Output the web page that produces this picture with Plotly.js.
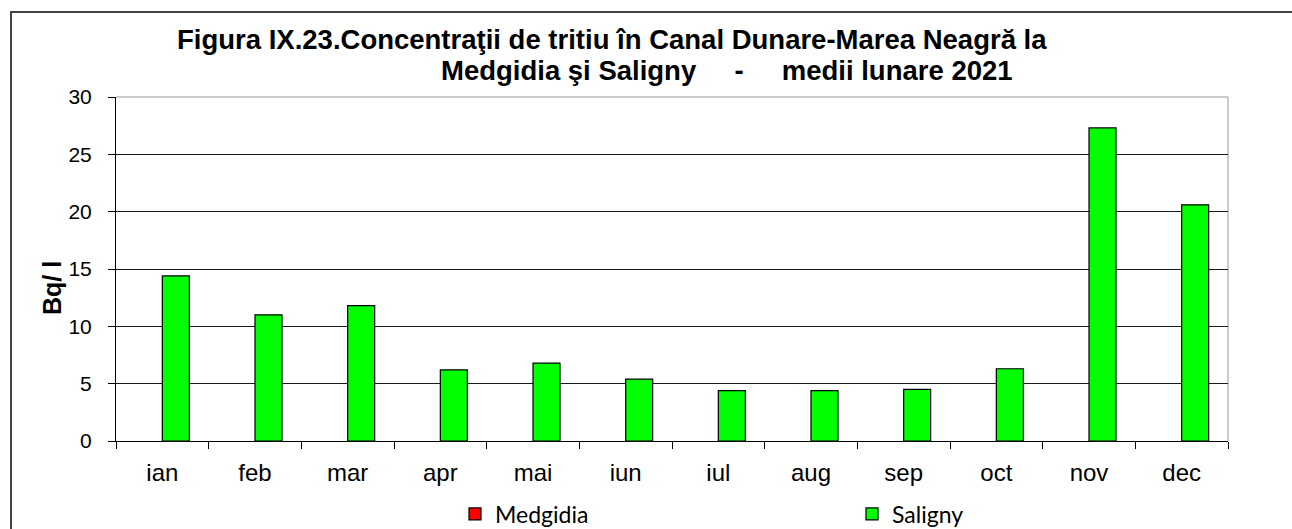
<!DOCTYPE html>
<html>
<head>
<meta charset="utf-8">
<script src="https://cdn.plot.ly/plotly-3.0.1.min.js"></script>
<style>
html,body{margin:0;padding:0;background:#fff;}
#chart{width:1292px;height:529px;}
</style>
</head>
<body>
<div id="chart"></div>
<script>
const months = ["ian","feb","mar","apr","mai","iun","iul","aug","sep","oct","nov","dec"];
const medgidia = [null,null,null,null,null,null,null,null,null,null,null,null];
const saligny = [14.4,11.0,11.8,6.2,6.8,5.4,4.4,4.4,4.5,6.3,27.3,20.6];
const yTicks = [0,5,10,15,20,25,30];
const titleLine1 = "Figura IX.23.Concentraţii de tritiu în Canal Dunare-Marea Neagră la";
const titleLine2 = "Medgidia şi Saligny" + "&nbsp;".repeat(5) + "-" + "&nbsp;".repeat(5) + "medii lunare 2021";
const yTitle = "Bq/ l";

const W = 1292, H = 529;
const L = 116, R = 64, T = 97, B = 88;
const pw = W - L - R, ph = H - T - B;
const px = x => (x - L) / pw;
const py = y => (H - B - y) / ph;

const traces = [
  {type:'bar', name:'Medgidia', x:months, y:medgidia,
   marker:{color:'#ff0000', line:{color:'#000', width:1.2}}},
  {type:'bar', name:'Saligny', x:months, y:saligny,
   marker:{color:'#00ff00', line:{color:'#000', width:1.2}}}
];

const layout = {
  width:W, height:H,
  margin:{l:L, r:R, t:T, b:B, pad:0, autoexpand:false},
  paper_bgcolor:'#fff', plot_bgcolor:'#fff',
  barmode:'group', bargap:0.417, bargroupgap:0,
  showlegend:true,
  legend:{orientation:'h', xref:'container', yref:'container',
          x:455/W, xanchor:'left', y:1-514/H, yanchor:'middle',
          entrywidth:352, entrywidthmode:'pixels',
          font:{family:'Lato, "Open Sans", sans-serif', size:23, color:'#000'},
          bgcolor:'rgba(0,0,0,0)', traceorder:'normal', itemclick:false},
  xaxis:{type:'category', showgrid:false, showline:true, linecolor:'#000', linewidth:1,
         ticks:'outside', tickson:'boundaries', ticklen:7, tickcolor:'#000', tickwidth:1,
         tickfont:{family:'"Liberation Sans", Arial, sans-serif', size:24, color:'#000'},
         ticklabelstandoff:10, zeroline:false, fixedrange:true, automargin:false},
  yaxis:{range:[0,30], tickvals:yTicks, ticktext:yTicks.map(String),
         showgrid:true, gridcolor:'#1a1a1a', gridwidth:1,
         showline:true, linecolor:'#000', linewidth:1,
         ticks:'outside', ticklen:7, tickcolor:'#000', tickwidth:1,
         tickfont:{family:'"Liberation Sans", Arial, sans-serif', size:21, color:'#000'},
         ticklabelstandoff:12, zeroline:false, fixedrange:true, automargin:false},
  shapes:[
    {type:'rect', xref:'paper', yref:'paper', x0:px(11), x1:px(1310), y0:py(12), y1:py(560),
     line:{color:'#444', width:2}, fillcolor:'rgba(0,0,0,0)', layer:'below'},
    {type:'line', xref:'paper', yref:'paper', x0:0, x1:1, y0:1, y1:1, line:{color:'#999', width:1}, layer:'below'},
    {type:'line', xref:'paper', yref:'paper', x0:1, x1:1, y0:0, y1:1, line:{color:'#999', width:1}, layer:'below'}
  ],
  annotations:[
    {text:'<b>'+titleLine1+'</b>', xref:'paper', yref:'paper', x:px(175), y:py(40),
     xanchor:'left', yanchor:'middle', showarrow:false,
     font:{family:'"Liberation Sans", Arial, sans-serif', size:27.5, color:'#000'}},
    {text:'<b>'+titleLine2+'</b>', xref:'paper', yref:'paper', x:px(439), y:py(70),
     xanchor:'left', yanchor:'middle', showarrow:false,
     font:{family:'"Liberation Sans", Arial, sans-serif', size:27.5, color:'#000'}},
    {text:'<b>'+yTitle+'</b>', xref:'paper', yref:'paper', x:px(52), y:py(288),
     xanchor:'center', yanchor:'middle', textangle:-90, showarrow:false,
     font:{family:'"Liberation Sans", Arial, sans-serif', size:25, color:'#000'}}
  ]
};

Plotly.newPlot('chart', traces, layout, {displayModeBar:false, staticPlot:true});
</script>
</body>
</html>
